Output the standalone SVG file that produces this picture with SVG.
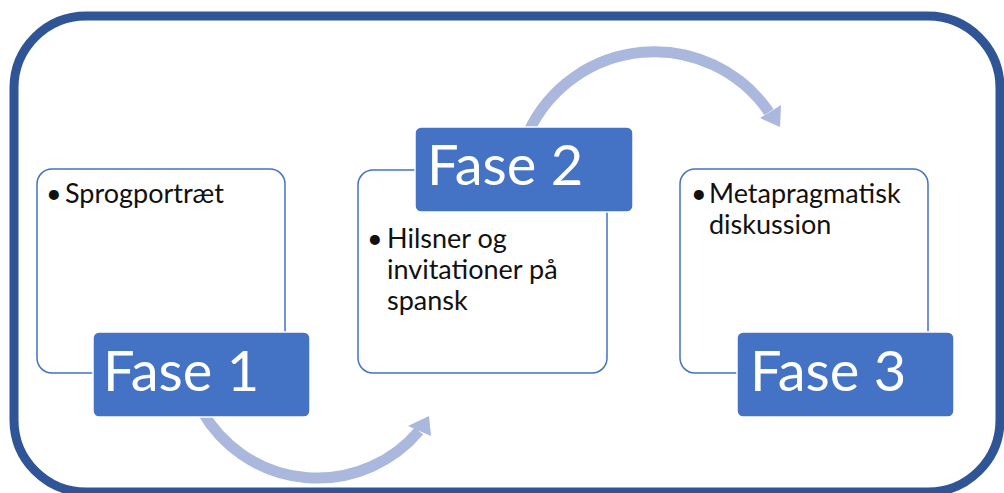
<svg xmlns="http://www.w3.org/2000/svg" width="1004" height="493" viewBox="0 0 1004 493">
  <style>
    .frame { fill: #ffffff; stroke: #2F5597; stroke-width: 9; }
    .content { fill: #ffffff; stroke: #4472C4; stroke-width: 1.5; }
    .label { fill: #4472C4; stroke: #ffffff; stroke-width: 1.5; }
    .ltxt { font-family: Lato, "Liberation Sans", sans-serif; font-size: 56px; fill: #ffffff; }
    .btxt { font-family: Lato, "Liberation Sans", sans-serif; font-size: 27px; fill: #111111; }
    .arc { fill: none; stroke: #ABB8DE; stroke-width: 11; }
    .head { fill: #ABB8DE; }
  </style>
  <rect width="1004" height="493" fill="#ffffff"/>
  <rect id="frame" class="frame" x="14" y="16" width="986" height="476" rx="72" ry="72"/>

  <g id="connectors">
    <path class="arc" d="M 202 411 A 133 133 0 0 0 419 431"/>
    <polygon class="head" points="408,426 429,416 431,436"/>
    <path class="arc" d="M 528 133 A 139 139 0 0 1 769 112"/>
    <polygon class="head" points="760,118 781,105 780,127"/>
  </g>

  <g id="phase1">
    <rect class="content" x="37" y="169" width="248" height="204" rx="15"/>
    <text class="btxt" x="46" y="203">•<tspan x="65">Sprogportræt</tspan></text>
    <rect class="label" x="93" y="332" width="217" height="85" rx="6"/>
    <text class="ltxt" x="103" y="391">Fase 1</text>
  </g>

  <g id="phase2">
    <rect class="content" x="358" y="170" width="249" height="203" rx="15"/>
    <text class="btxt" x="367" y="248">•<tspan x="387">Hilsner og</tspan></text>
    <text class="btxt" x="387" y="279">invitationer på</text>
    <text class="btxt" x="387" y="310">spansk</text>
    <rect class="label" x="415" y="127" width="218" height="85" rx="6"/>
    <text class="ltxt" x="427" y="185">Fase 2</text>
  </g>

  <g id="phase3">
    <rect class="content" x="680" y="169" width="248" height="204" rx="15"/>
    <text class="btxt" x="691" y="203">•<tspan x="709">Metapragmatisk</tspan></text>
    <text class="btxt" x="709" y="234">diskussion</text>
    <rect class="label" x="737" y="332" width="217" height="85" rx="6"/>
    <text class="ltxt" x="750" y="391">Fase 3</text>
  </g>
</svg>
